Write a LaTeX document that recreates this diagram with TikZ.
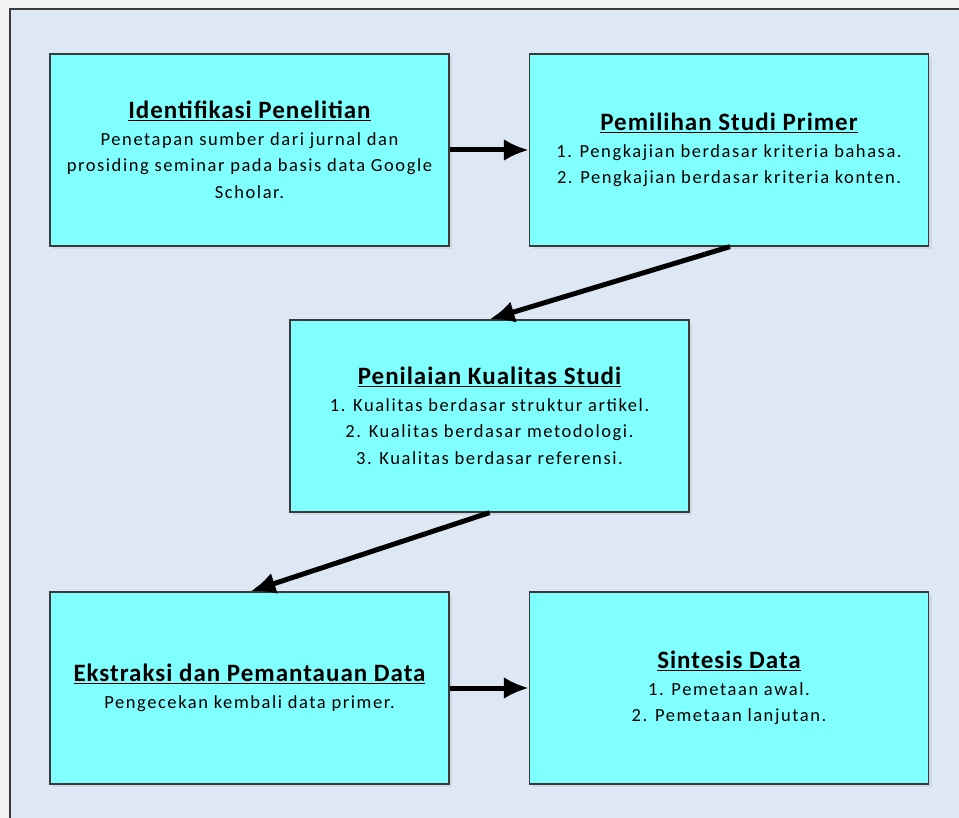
\documentclass[tikz,border=0pt]{standalone}
\usepackage{fontspec}
\setmainfont{Carlito}[LetterSpace=8.5]
\newfontfamily\judulfont{Carlito}[LetterSpace=4]
\usepackage{tikz}
\usetikzlibrary{arrows.meta}
\usetikzlibrary{shadows}
\definecolor{boxcyan}{HTML}{80FFFF}
\definecolor{pagebg}{HTML}{DEE8F4}
\definecolor{outerbg}{HTML}{F4F4F4}
\definecolor{edgegray}{HTML}{3A3A3A}
\newcommand{\judul}[1]{{\judulfont\fontsize{25}{28}\selectfont\bfseries\underline{#1}}}

\begin{document}
\begin{tikzpicture}[x=1pt,y=-1pt]
    \tikzstyle{block} = [draw=edgegray, line width=1.3pt, fill=boxcyan, rectangle, minimum width=399pt, minimum height=192pt, align=center, inner sep=4pt, font={\fontsize{18.5}{26.5}\selectfont}, drop shadow={shadow xshift=3pt, shadow yshift=-3pt, opacity=0.15}];
    \tikzstyle{line} = [draw, line width=5pt, -{Latex[length=25pt,width=22pt]}];
    \useasboundingbox (0,0) rectangle (959,818);
    \fill[outerbg] (0,0) rectangle (959,818);
    \draw[edgegray, line width=1.3pt, fill=pagebg] (10,9) rectangle (980,840);
    \node[block] (ident) at (249.5,150) {\judul{Identifikasi Penelitian}\\ Penetapan sumber dari jurnal dan\\ prosiding seminar pada basis data Google\\ Scholar.};
    \node[block] (pilih) at (729,150) {\judul{Pemilihan Studi Primer}\\ 1. Pengkajian berdasar kriteria bahasa.\\ 2. Pengkajian berdasar kriteria konten.};
    \node[block] (nilai) at (489.5,416) {\judul{Penilaian Kualitas Studi}\\ 1. Kualitas berdasar struktur artikel.\\ 2. Kualitas berdasar metodologi.\\ 3. Kualitas berdasar referensi.};
    \node[block] (ekstrak) at (249.5,688) {\judul{Ekstraksi dan Pemantauan Data}\\ Pengecekan kembali data primer.};
    \node[block] (sintesis) at (729,688) {\judul{Sintesis Data}\\ 1. Pemetaan awal.\\ 2. Pemetaan lanjutan.};
    \path[line] (ident) -- (pilih);
    \path[line] ([xshift=1pt]pilih.south) -- (nilai.north);
    \path[line] (nilai.south) -- ([xshift=1pt]ekstrak.north);
    \path[line] (ekstrak) -- (sintesis);
\end{tikzpicture}
\end{document}
